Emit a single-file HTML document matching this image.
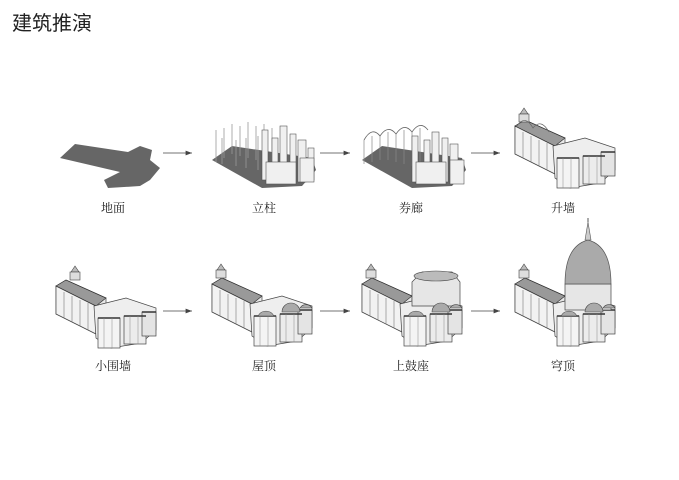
<!DOCTYPE html>
<html><head><meta charset="utf-8"><style>
body{margin:0;background:#fff;width:679px;height:480px;overflow:hidden}
svg{display:block}
text{font-family:"Liberation Serif","Noto Serif CJK SC",serif;fill:#222}
</style></head><body>
<svg width="679" height="480" viewBox="0 0 679 480">
<defs>
<marker id="ah" markerWidth="8" markerHeight="6" refX="8" refY="3" orient="auto"><path d="M0,0 L8,3 L0,6 z" fill="#444"/></marker>
<g id="base">
 <!-- nave -->
 <path d="M0,18 L10,12 L50,30 L50,60 L40,66 L0,46 Z" fill="#e8e8e8" stroke="#444" stroke-width="0.7"/>
 <path d="M0,18 L40,38 L40,66 L0,46 Z" fill="#f2f2f2" stroke="#444" stroke-width="0.7"/>
 <path d="M0,18 L10,12 L50,30 L40,38 Z" fill="#999" stroke="#333" stroke-width="0.7"/>
 <path d="M8,24 V50 M16,28 V54 M24,32 V58 M32,35 V62" stroke="#777" stroke-width="0.6"/>
 <!-- apse cluster -->
 <path d="M38,38 L70,30 L100,40 L100,62 L85,75 L55,80 L40,70 Z" fill="#eee" stroke="#444" stroke-width="0.7"/>
 <rect x="42" y="50" width="22" height="30" fill="#f4f4f4" stroke="#444" stroke-width="0.7"/>
 <rect x="68" y="48" width="22" height="28" fill="#ececec" stroke="#444" stroke-width="0.7"/>
 <rect x="86" y="44" width="14" height="24" fill="#e4e4e4" stroke="#444" stroke-width="0.7"/>
 <path d="M42,50 H64 M68,48 H90 M86,44 H100" stroke="#333" stroke-width="1.5"/>
 <path d="M48,50 V80 M56,50 V80 M74,48 V76 M82,48 V76" stroke="#888" stroke-width="0.5"/>
</g>
<g id="tower"><path d="M5,12 L9,6 L13,12 Z" fill="#bbb" stroke="#444" stroke-width="0.6"/><rect x="4" y="12" width="10" height="8" fill="#ddd" stroke="#444" stroke-width="0.6"/></g>
<g id="domes">
 <path d="M46,50 A9,9 0 0 1 62,50 Z" fill="#aaa" stroke="#444" stroke-width="0.6"/>
 <path d="M70,46 A9,9 0 0 1 88,46 Z" fill="#aaa" stroke="#444" stroke-width="0.6"/>
 <path d="M88,42 A7,7 0 0 1 100,42 Z" fill="#aaa" stroke="#444" stroke-width="0.6"/>
</g>
</defs>
<text x="12" y="30" font-size="20" style="font-family:'Noto Sans CJK SC',sans-serif">建筑推演</text>

<!-- 1 ground -->
<path d="M60,158 L75,144 L128,152 L140,146 L152,150 L150,160 L160,168 L150,180 L140,186 L108,188 L104,180 L120,172 Z" fill="#666"/>
<!-- 2 columns -->
<g transform="translate(212,118)">
 <path d="M0,42 L20,28 L100,40 L104,52 L90,68 L50,70 Z" fill="#666"/>
 <g stroke="#999" stroke-width="0.8"><path d="M4,12V44 M12,10V40 M20,6V36 M28,8V38 M36,4V40 M44,8V42 M52,6V44 M60,10V46 M10,20V46 M24,22V48 M34,20V50 M46,18V52"/></g>
 <g fill="#f0f0f0" stroke="#555" stroke-width="0.6"><rect x="50" y="12" width="6" height="50"/><rect x="60" y="20" width="6" height="44"/><rect x="68" y="8" width="7" height="56"/><rect x="78" y="16" width="6" height="48"/><rect x="86" y="22" width="8" height="42"/><rect x="96" y="30" width="6" height="32"/><rect x="54" y="44" width="30" height="22"/><rect x="88" y="40" width="14" height="24"/></g>
</g>
<!-- 3 arcades -->
<g transform="translate(362,118)">
 <path d="M0,42 L20,28 L100,40 L104,52 L90,68 L50,70 Z" fill="#666"/>
 <path d="M2,22 Q10,8 18,18 Q26,6 34,16 Q42,4 50,14 Q58,2 66,12" fill="none" stroke="#666" stroke-width="0.8"/>
 <path d="M2,22V46 M10,18V44 M18,18V42 M26,14V42 M34,16V44 M42,12V46 M50,14V48 M58,10V50" stroke="#888" stroke-width="0.7"/>
 <g fill="#f0f0f0" stroke="#555" stroke-width="0.6"><rect x="50" y="18" width="6" height="46"/><rect x="62" y="22" width="6" height="42"/><rect x="70" y="14" width="7" height="50"/><rect x="80" y="20" width="6" height="44"/><rect x="88" y="26" width="8" height="38"/><rect x="54" y="44" width="30" height="22"/><rect x="88" y="42" width="14" height="24"/></g>
</g>
<!-- 4 walls -->
<g transform="translate(515,108)"><use href="#base"/><use href="#tower" x="0" y="-6"/><path d="M2,18 Q10,6 18,20 Q26,10 34,24" fill="none" stroke="#666" stroke-width="0.7"/></g>
<!-- 5 -->
<g transform="translate(56,268)"><use href="#base"/><use href="#tower" x="10" y="-8"/></g>
<!-- 6 roof -->
<g transform="translate(212,266)"><use href="#base"/><use href="#tower" x="0" y="-8"/><use href="#domes"/></g>
<!-- 7 drum -->
<g transform="translate(362,266)"><use href="#base"/><use href="#tower" x="0" y="-8"/>
 <path d="M50,16 L60,6 L90,6 L98,16 L98,40 L50,40 Z" fill="#e6e6e6" stroke="#444" stroke-width="0.7"/>
 <ellipse cx="74" cy="10" rx="22" ry="5" fill="#bbb" stroke="#444" stroke-width="0.6"/>
 <use href="#domes"/></g>
<!-- 8 dome -->
<g transform="translate(515,266)"><use href="#base"/><use href="#tower" x="0" y="-8"/>
 <rect x="50" y="18" width="46" height="26" fill="#e6e6e6" stroke="#444" stroke-width="0.7"/>
 <path d="M50,18 Q50,-20 73,-26 Q96,-20 96,18 Z" fill="#aaa" stroke="#555" stroke-width="0.7"/>
 <path d="M70,-26 L73,-44 L76,-26 Z" fill="#ccc" stroke="#555" stroke-width="0.6"/>
 <line x1="73" y1="-48" x2="73" y2="-44" stroke="#555"/>
 <use href="#domes"/></g>

<!-- arrows -->
<g stroke="#444" stroke-width="0.8" fill="none" marker-end="url(#ah)">
 <line x1="163" y1="153" x2="192" y2="153"/><line x1="320" y1="153" x2="350" y2="153"/><line x1="471" y1="153" x2="500" y2="153"/>
 <line x1="163" y1="311" x2="192" y2="311"/><line x1="320" y1="311" x2="350" y2="311"/><line x1="471" y1="311" x2="500" y2="311"/>
</g>
<g font-size="12" text-anchor="middle">
 <text x="113" y="212">地面</text><text x="264" y="212">立柱</text><text x="411" y="212">券廊</text><text x="563" y="212">升墙</text>
 <text x="113" y="370">小围墙</text><text x="264" y="370">屋顶</text><text x="411" y="370">上鼓座</text><text x="563" y="370">穹顶</text>
</g>
</svg>
</body></html>
